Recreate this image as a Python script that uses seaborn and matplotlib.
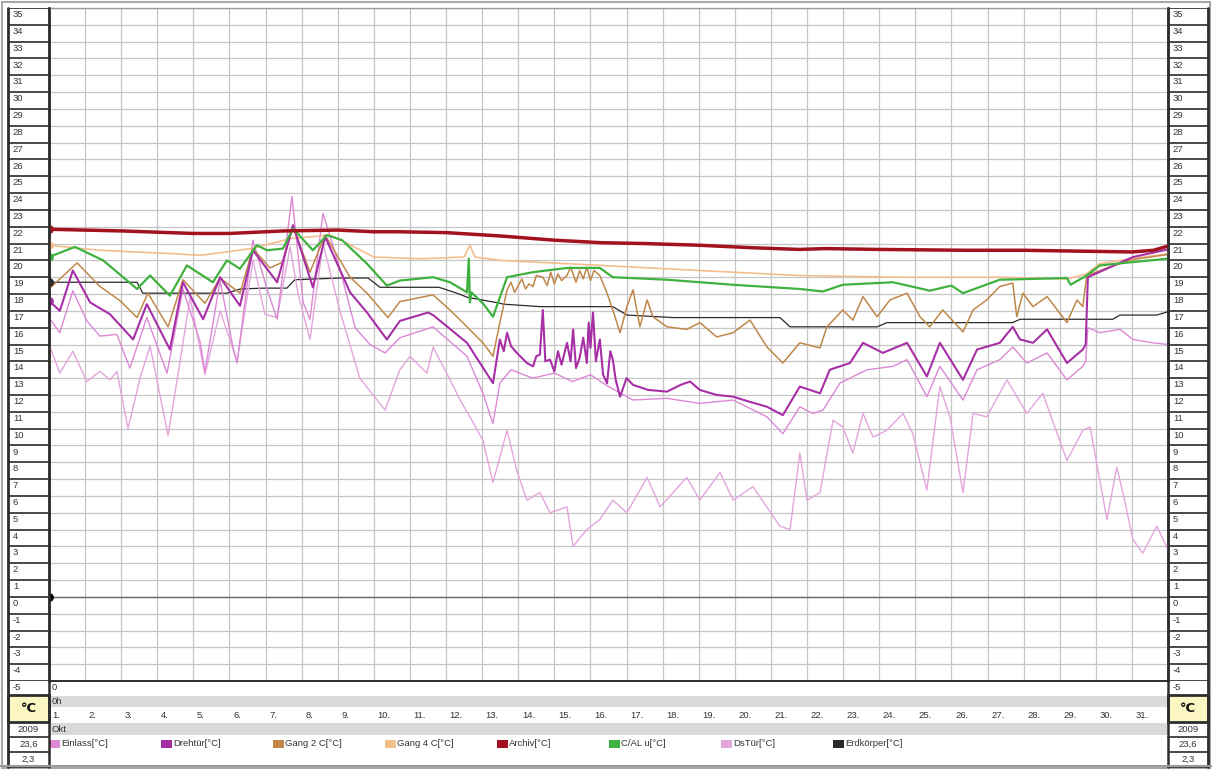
import matplotlib
matplotlib.use("Agg")
import matplotlib.pyplot as plt
import matplotlib.patches as mpatches
import matplotlib.transforms as mtransforms
from matplotlib import font_manager
import numpy as np
import pandas as pd
import seaborn as sns

sns.set_theme(style="white")


def pick_font():
    for fam in ["Liberation Sans Narrow", "Liberation Sans", "DejaVu Sans"]:
        try:
            font_manager.findfont(font_manager.FontProperties(family=fam),
                                  fallback_to_default=False)
            return fam
        except Exception:
            pass
    return "DejaVu Sans"


FONT = pick_font()
plt.rcParams['font.family'] = [FONT, 'DejaVu Sans']
FS = 7.6 if "Narrow" in FONT else 6.8

# ---------------- data (days since 1 Oct 2009 0h, values in °C) ----------------
day_labels = [f"{d}." for d in range(1, 32)]
y_labels = list(range(-5, 36))
month_label = "Okt"
hour_label = "0h"
start_label = "0"
year_label = "2009"
unit_label = "°C"
max_label = "23,6"
min_label = "2,3"

archiv_t = [0, 2, 4, 5, 6.5, 8, 9, 9.7, 11, 12.5, 14, 15.3, 16.5, 18, 19.5, 20.8, 21.5, 23, 25.4, 27, 28.5, 30, 30.6, 31]
archiv_v = [21.85, 21.75, 21.6, 21.6, 21.75, 21.8, 21.7, 21.7, 21.65, 21.45, 21.2, 21.05, 21.0, 20.9, 20.75, 20.65, 20.7, 20.65, 20.6, 20.6, 20.55, 20.5, 20.6, 20.85]

gang4_t = [0, 1.4, 3.4, 4.2, 5.6, 6.7, 7.8, 9.0, 10.3, 11.5, 11.66, 11.8, 12.5, 15.3, 18.0, 20.8, 23.5, 26.3, 28.2, 28.75, 29.1, 30.0, 31]
gang4_v = [20.9, 20.6, 20.4, 20.3, 20.7, 21.3, 21.5, 20.2, 20.1, 20.2, 20.9, 20.2, 20.0, 19.7, 19.4, 19.1, 19.0, 19.0, 18.9, 19.2, 19.8, 20.1, 20.4]

cal_t = [0, 0.72, 1.5, 2.44, 2.8, 3.35, 3.82, 4.54, 4.93, 5.29, 5.76, 6.04, 6.48, 6.76, 7.31, 7.7, 8.12, 8.81, 9.36, 9.72, 10.64, 11.11, 11.58, 11.63, 11.66, 11.7, 12.02, 12.3, 12.69, 13.41, 14.35, 15.26, 15.62, 17.12, 18.95, 20.8, 21.44, 21.99, 23.38, 24.4, 25.0, 25.32, 26.34, 28.2, 28.3, 28.75, 29.11, 30.03, 31]
cal_v = [20.2, 20.8, 20.0, 18.3, 19.1, 17.9, 19.7, 18.7, 20.0, 19.5, 20.9, 20.6, 20.7, 21.9, 20.6, 21.5, 21.2, 19.8, 18.5, 18.8, 19.0, 18.7, 18.1, 20.1, 17.5, 18.1, 17.45, 16.65, 19.0, 19.3, 19.55, 19.55, 19.0, 18.85, 18.55, 18.3, 18.15, 18.55, 18.7, 18.2, 18.5, 18.05, 18.85, 18.95, 18.55, 19.1, 19.7, 19.9, 20.1]

gang2_t = [0, 0.78, 1.41, 1.97, 2.44, 2.74, 3.30, 3.71, 4.32, 4.74, 5.29, 5.65, 6.12, 6.48, 6.76, 7.23, 7.65, 8.34, 8.81, 9.39, 9.72, 10.64, 11.11, 11.58, 12.02, 12.30, 12.49,
           12.69, 12.8, 12.9, 13.0, 13.1, 13.2, 13.3, 13.41, 13.5, 13.68, 13.8, 13.9, 14.0, 14.1, 14.2, 14.35, 14.45, 14.6, 14.7, 14.8, 14.9, 15.0, 15.1, 15.26, 15.46,
           15.62, 15.82, 16.01, 16.18, 16.37, 16.57, 16.73, 17.12, 17.67, 18.03, 18.50, 18.95, 19.42, 19.89, 20.33, 20.80, 21.36, 21.55, 21.99, 22.27, 22.55, 22.94, 23.30, 23.77, 24.13, 24.40, 24.76, 25.32, 25.60, 25.98, 26.34, 26.70, 26.81, 26.98, 27.26, 27.65, 28.20, 28.48, 28.64, 28.75, 29.5, 30.03, 31]
gang2_v = [18.3, 19.85, 18.45, 17.6, 16.6, 18.05, 16.05, 18.85, 17.45, 18.95, 18.05, 20.7, 19.55, 19.9, 22.0, 19.3, 21.5, 19.0, 18.05, 16.6, 17.55, 17.95, 17.05, 16.05, 15.1, 14.3, 16.3,
           18.25, 18.7, 18.1, 18.5, 18.9, 18.3, 18.6, 18.45, 19.1, 19.0, 18.5, 19.3, 18.6, 19.2, 18.8, 19.1, 19.6, 18.7, 19.4, 18.9, 19.6, 18.8, 19.4, 19.1, 18.05,
           17.05, 15.7, 17.25, 18.25, 16.05, 17.65, 16.65, 16.05, 15.9, 16.3, 15.45, 15.7, 16.45, 14.85, 13.9, 15.1, 14.8, 16.05, 17.05, 16.45, 17.85, 16.65, 17.65, 18.05, 16.65, 16.05, 17.05, 15.75, 17.05, 17.65, 18.45, 18.65, 16.65, 18.05, 17.25, 17.85, 16.3, 17.65, 17.25, 19.1, 19.7, 20.05, 20.35]

dreh_t = [0, 0.30, 0.66, 1.14, 1.69, 2.33, 2.71, 3.35, 3.71, 4.27, 4.74, 5.29, 5.65, 6.32, 6.76, 7.31, 7.65, 8.34, 8.81, 9.36, 9.72, 10.5, 10.64, 11.58, 12.30,
          12.49, 12.6, 12.69, 12.8, 12.96, 13.1, 13.24, 13.41, 13.5, 13.6, 13.68, 13.75, 13.88, 14.0, 14.1, 14.2, 14.35, 14.45, 14.52, 14.6, 14.7, 14.8, 14.90, 14.95, 15.0, 15.07, 15.15, 15.26, 15.35, 15.46, 15.55, 15.62, 15.7, 15.82, 16.0, 16.18,
          16.6, 17.12, 17.5, 17.76, 18.03, 18.5, 18.95, 19.4, 19.89, 20.33, 20.80, 21.36, 21.63, 22.19, 22.55, 23.10, 23.77, 24.32, 24.68, 25.32, 25.71, 26.34, 26.70, 26.90, 27.26, 27.65, 28.20, 28.64, 28.72, 28.78, 30.03, 31]
dreh_v = [17.6, 17.0, 19.4, 17.5, 16.8, 15.3, 17.4, 14.7, 18.7, 16.5, 19.0, 17.3, 20.6, 18.7, 22.1, 18.4, 21.4, 18.1, 16.9, 15.3, 16.4, 16.9, 16.75, 15.1, 12.7,
          15.3, 14.6, 15.7, 14.9, 14.5, 14.2, 13.9, 13.7, 14.3, 14.4, 17.05, 14.0, 14.1, 13.4, 14.6, 13.8, 15.1, 14.0, 15.9, 13.6, 14.2, 15.4, 13.9, 16.3, 14.8, 16.9, 14.0, 15.3, 13.2, 12.7, 14.6, 14.1, 12.9, 11.9, 13.0, 12.6,
          12.3, 12.2, 12.6, 12.8, 12.3, 12.0, 11.9, 11.6, 11.3, 10.8, 12.5, 12.1, 13.5, 13.9, 15.1, 14.5, 15.1, 13.1, 15.1, 12.9, 14.7, 15.1, 16.05, 15.3, 15.1, 15.9, 13.9, 14.7, 15.0, 19.0, 20.2, 20.65]

einlass_t = [0, 0.30, 0.66, 1.05, 1.41, 1.88, 2.24, 2.71, 3.27, 3.71, 4.18, 4.32, 4.74, 5.10, 5.21, 5.65, 6.04, 6.32, 6.73, 7.04, 7.23, 7.59, 8.06, 8.48, 8.89, 9.31, 9.72, 10.64, 11.58, 12.02, 12.30, 12.49, 12.8, 13.4, 14.0, 14.5, 15.0, 15.5, 16.18, 17.12, 18.03, 18.95, 19.89, 20.33, 20.80, 21.16, 21.44, 21.91, 22.66, 23.38, 23.77, 24.32, 24.68, 25.32, 25.71, 26.34, 26.70, 27.09, 27.65, 28.20, 28.64, 28.72, 28.78, 29.11, 29.67, 30.03, 30.58, 31]
einlass_v = [16.6, 15.7, 18.2, 16.4, 15.5, 15.6, 13.6, 16.6, 13.3, 18.3, 15.2, 13.4, 18.8, 14.8, 13.9, 21.2, 18.3, 16.5, 23.8, 17.5, 16.5, 22.8, 19.5, 16.0, 15.0, 14.5, 15.4, 16.05, 14.3, 12.1, 10.3, 12.7, 13.5, 13.0, 13.3, 12.8, 13.2, 12.5, 11.7, 11.8, 11.5, 11.7, 10.7, 9.7, 11.3, 10.9, 11.1, 12.7, 13.5, 13.7, 14.1, 11.9, 13.7, 11.7, 13.5, 14.1, 14.85, 13.9, 14.5, 12.9, 13.7, 14.0, 16.0, 15.7, 15.9, 15.3, 15.1, 15.0]

dstuer_t = [0, 0.30, 0.66, 1.05, 1.41, 1.69, 1.88, 2.19, 2.52, 2.80, 3.30, 3.63, 3.91, 4.32, 4.74, 5.21, 5.65, 5.98, 6.32, 6.68, 6.90, 7.23, 7.59, 8.06, 8.61, 9.31, 9.72, 10.00, 10.47, 10.64, 11.11, 11.39, 11.66, 12.02, 12.30, 12.69, 12.96, 13.24, 13.60, 13.88, 14.35, 14.52, 14.90, 15.26, 15.62, 16.01, 16.57, 16.93, 17.67, 18.03, 18.59, 18.95, 19.50, 20.25, 20.53, 20.80, 21.00, 21.36, 21.72, 21.99, 22.27, 22.55, 22.83, 23.21, 23.66, 23.93, 24.32, 24.68, 24.96, 25.32, 25.60, 25.98, 26.54, 27.09, 27.53, 28.20, 28.64, 28.84, 29.31, 29.58, 29.75, 30.03, 30.30, 30.69, 31]
dstuer_v = [15.0, 13.3, 14.6, 12.8, 13.4, 12.9, 13.4, 10.0, 13.0, 14.9, 9.6, 14.0, 17.8, 13.2, 17.0, 14.0, 20.0, 16.8, 16.6, 20.8, 18.0, 15.3, 21.0, 17.0, 13.0, 11.1, 13.5, 14.3, 13.3, 14.85, 12.9, 11.7, 10.7, 9.3, 6.8, 9.9, 7.5, 5.75, 6.2, 5.0, 5.35, 3.0, 4.0, 4.6, 5.75, 5.0, 7.1, 5.35, 7.1, 5.75, 7.4, 5.75, 6.55, 4.2, 4.0, 8.55, 5.75, 6.2, 10.5, 10.1, 8.55, 10.9, 9.5, 9.9, 10.9, 9.7, 6.35, 12.5, 10.7, 6.2, 10.9, 10.7, 12.9, 10.9, 12.1, 8.1, 9.9, 10.1, 4.6, 7.7, 6.2, 3.4, 2.6, 4.2, 2.8]

erd_t = [0, 2.44, 2.6, 3.43, 4.93, 5.3, 5.93, 6.59, 6.81, 8.06, 8.84, 9.17, 9.72, 10.8, 11.30, 11.6, 12.5, 12.58, 13.60, 15.62, 16.01, 17.29, 20.25, 20.53, 22.94, 23.21, 26.70, 26.9, 29.47, 29.67, 30.69, 31]
erd_v = [18.7, 18.7, 18.05, 18.05, 18.05, 18.3, 18.35, 18.35, 18.85, 18.95, 18.95, 18.4, 18.4, 18.4, 18.05, 17.8, 17.45, 17.4, 17.25, 17.25, 16.75, 16.6, 16.6, 16.05, 16.05, 16.3, 16.3, 16.5, 16.5, 16.75, 16.75, 16.95]

legend_names = ["Einlass[°C]", "Drehtür[°C]", "Gang 2 C[°C]", "Gang 4 C[°C]",
                "Archiv[°C]", "C/AL u[°C]", "DsTür[°C]", "Erdkörper[°C]"]

# ---------------- styles ----------------
colors = {
    "Einlass[°C]": "#dc88d4",
    "Drehtür[°C]": "#a72fa6",
    "Gang 2 C[°C]": "#c0874a",
    "Gang 4 C[°C]": "#f4bd8e",
    "Archiv[°C]": "#a3121f",
    "C/AL u[°C]": "#3fb13f",
    "DsTür[°C]": "#e3a5dd",
    "Erdkörper[°C]": "#2a2a2a",
}
widths = {
    "Einlass[°C]": 1.0, "Drehtür[°C]": 1.5, "Gang 2 C[°C]": 1.1,
    "Gang 4 C[°C]": 1.2, "Archiv[°C]": 2.5, "C/AL u[°C]": 1.6,
    "DsTür[°C]": 1.0, "Erdkörper[°C]": 0.9,
}
series = {
    "Erdkörper[°C]": (erd_t, erd_v),
    "DsTür[°C]": (dstuer_t, dstuer_v),
    "Einlass[°C]": (einlass_t, einlass_v),
    "Gang 4 C[°C]": (gang4_t, gang4_v),
    "Gang 2 C[°C]": (gang2_t, gang2_v),
    "Drehtür[°C]": (dreh_t, dreh_v),
    "C/AL u[°C]": (cal_t, cal_v),
    "Archiv[°C]": (archiv_t, archiv_v),
}
start_markers = ["Archiv[°C]", "Gang 4 C[°C]", "C/AL u[°C]", "Erdkörper[°C]", "Drehtür[°C]"]

W, H = 1212, 771
fig = plt.figure(figsize=(W / 100, H / 100), dpi=100)
fig.patch.set_facecolor("white")

PL, PR, PT, PB = 49, 1168, 8, 681
ax = fig.add_axes([PL / W, 1 - PB / H, (PR - PL) / W, (PB - PT) / H])
ax.set_facecolor("white")

for name, (t, v) in series.items():
    sns.lineplot(x=t, y=v, ax=ax, color=colors[name], linewidth=widths[name],
                 estimator=None, sort=False, legend=False, zorder=3)
for name in start_markers:
    t, v = series[name]
    ax.scatter([t[0]], [v[0]], s=40, color=colors[name], zorder=4, clip_on=True,
               linewidths=0)
ax.scatter([0], [0], s=40, color="#000000", zorder=4, clip_on=True, linewidths=0)

ax.set_xlim(0, 31)
ax.set_ylim(-5, 35)
ax.set_xticks(range(0, 32))
ax.set_yticks(y_labels)
ax.grid(True, color="#c6c6c6", linewidth=0.9, zorder=0)
ax.set_axisbelow(True)
ax.tick_params(length=0, labelbottom=False, labelleft=False)
ax.set_xlabel("")
ax.set_ylabel("")
ax.axhline(0, color="#6a6a6a", linewidth=1.0, zorder=1)
for side in ["left", "right"]:
    ax.spines[side].set_color("#2e2e2e")
    ax.spines[side].set_linewidth(1.8)
ax.spines["top"].set_color("#9a9a9a")
ax.spines["top"].set_linewidth(1.0)
ax.spines["bottom"].set_color("#2e2e2e")
ax.spines["bottom"].set_linewidth(1.4)


def side_column(x0, x1, text_x):
    a = fig.add_axes([x0 / W, 1 - PB / H, (x1 - x0) / W, (PB - PT) / H])
    a.set_xlim(0, 1)
    a.set_ylim(-5, 35)
    a.axis("off")
    for v in y_labels:
        a.axhline(v, color="#3a3a3a", linewidth=1.3)
        a.annotate(str(v), (text_x, v), xytext=(0, -1.5), textcoords="offset points",
                   va="top", ha="left", fontsize=FS, color="#333333",
                   annotation_clip=False)
    return a


side_column(8, PL, 0.12)
side_column(PR, 1208, 0.12)

# overlay in pixel coordinates for the footer / frame
axo = fig.add_axes([0, 0, 1, 1], zorder=5)
axo.set_xlim(0, W)
axo.set_ylim(H, 0)
axo.axis("off")
axo.patch.set_alpha(0)

axo.add_patch(mpatches.Rectangle((2, 2), W - 4, H - 5, fill=False,
                                 edgecolor="#a8a8a8", linewidth=1.5))
# bands
axo.add_patch(mpatches.Rectangle((PL, 696), PR - PL, 11, color="#d9d9d9", linewidth=0))
axo.add_patch(mpatches.Rectangle((PL, 723), PR - PL, 12, color="#d9d9d9", linewidth=0))
axo.text(52, 688, start_label, fontsize=FS, va="center", ha="left", color="#333333")
axo.text(52, 701.5, hour_label, fontsize=FS, va="center", ha="left", color="#333333")
axo.text(52, 729, month_label, fontsize=FS, va="center", ha="left", color="#333333")

# day labels positioned through the data scale of the main axes
trans = mtransforms.blended_transform_factory(ax.transData, axo.transData)
for i, lbl in enumerate(day_labels):
    axo.text(i + 0.1, 715, lbl, transform=trans, fontsize=FS, va="center",
             ha="left", color="#333333")

# legend row
for i, name in enumerate(legend_names):
    x0 = 49 + i * 112.0
    axo.add_patch(mpatches.Rectangle((x0, 740), 11, 8, color=colors[name], linewidth=0))
    axo.text(x0 + 12, 744, name, fontsize=FS, va="center", ha="left", color="#333333")

# lower cells of the side columns
for (c0, c1) in [(8, PL), (PR, 1208)]:
    cx = (c0 + c1) / 2
    axo.add_patch(mpatches.Rectangle((c0, 695), c1 - c0, 27, facecolor="#fbf6c2",
                                     edgecolor="#2e2e2e", linewidth=2.0))
    for yy in [737, 752, 767]:
        axo.plot([c0, c1], [yy, yy], color="#3a3a3a", linewidth=1.3)
    axo.text(cx, 708.5, unit_label, fontsize=9.5, fontweight="bold", ha="center",
             va="center", color="#111111", family=["DejaVu Sans"])
    axo.text(cx, 729.5, year_label, fontsize=FS, ha="center", va="center", color="#333333")
    axo.text(cx, 744.5, max_label, fontsize=FS, ha="center", va="center", color="#333333")
    axo.text(cx, 759.5, min_label, fontsize=FS, ha="center", va="center", color="#333333")

for xx, lw in [(8, 2.0), (PL, 1.8), (PR, 1.8), (1208, 2.0)]:
    axo.plot([xx, xx], [PT, 767], color="#2e2e2e", linewidth=lw)
axo.plot([0, W], [766, 766], color="#9a9a9a", linewidth=1.5)

fig.savefig("out.png", dpi=100, facecolor="white")
